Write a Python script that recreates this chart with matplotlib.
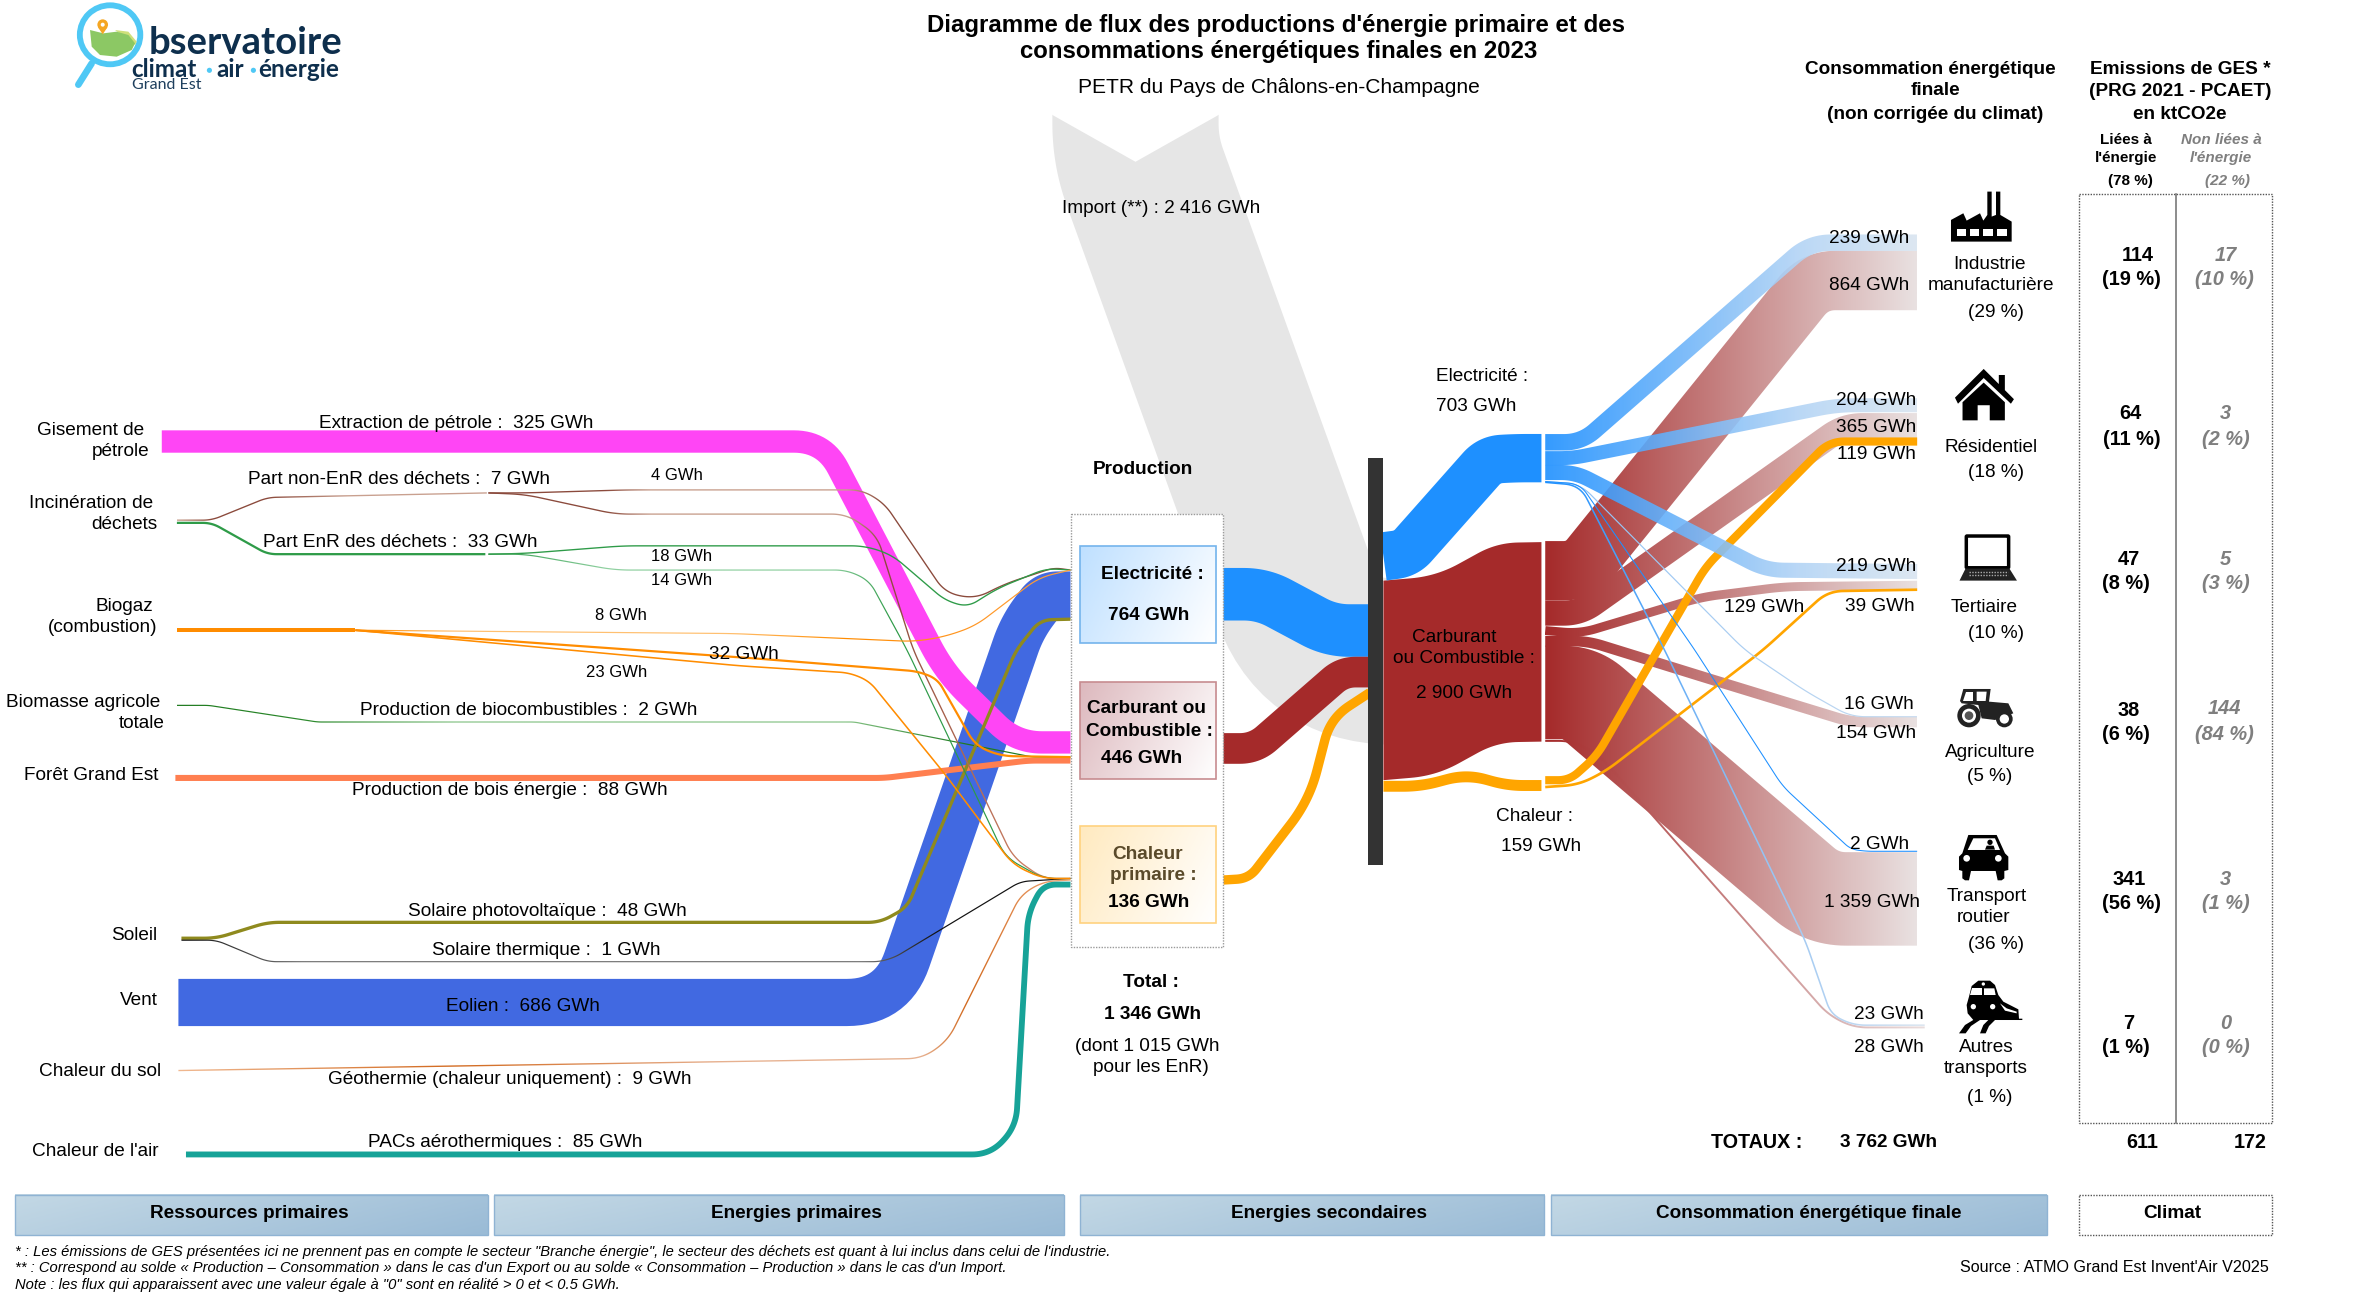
import numpy as np
import matplotlib
matplotlib.use("Agg")
import matplotlib.pyplot as plt
import matplotlib.colors as mc
from matplotlib.path import Path
from matplotlib.patches import PathPatch, Rectangle, Circle, Polygon, Ellipse, FancyBboxPatch

plt.rcParams['font.family'] = ['Liberation Sans', 'DejaVu Sans']

# ---------------- DATA ----------------
primary_names = ["Extraction de pétrole", "Part non-EnR des déchets", "Part EnR des déchets",
                 "Production de biocombustibles", "Production de bois énergie",
                 "Solaire photovoltaïque", "Solaire thermique", "Eolien",
                 "Géothermie (chaleur uniquement)", "PACs aérothermiques"]
primary_gwh = [325, 7, 33, 2, 88, 48, 1, 686, 9, 85]
waste_split_gwh = [4, 3, 18, 14]
biogas_split_gwh = [8, 32, 23]
production_gwh = [764, 446, 136]
production_total = 1346
production_enr = 1015
import_gwh = 2416
secondary_gwh = [703, 2900, 159]
elec_to_sector = [239, 204, 219, 16, 2, 23]
fuel_to_sector = [864, 365, 129, 154, 1359, 28]
heat_to_sector = [119, 39]
final_total = 3762
sector_pct = [29, 18, 10, 5, 36, 1]
ges_energy = [114, 64, 47, 38, 341, 7]
ges_energy_pct = [19, 11, 8, 6, 56, 1]
ges_other = [17, 3, 5, 144, 3, 0]
ges_other_pct = [10, 2, 3, 84, 1, 0]
ges_totals = [611, 172]
ges_shares = [78, 22]
band_names = ["Ressources primaires", "Energies primaires", "Energies secondaires",
              "Consommation énergétique finale"]

# ---------------- CANVAS ----------------
W, H = 1567.5, 859.1
fig = plt.figure(figsize=(23.7, 12.99), dpi=100)
ax = fig.add_axes([0, 0, 1, 1])
ax.set_axis_off()
KW = 0.0455  # drawing units per GWh
FS = 13.7


def gwh(v):
    return f"{v:,}".replace(",", " ") + " GWh"


def smooth(route, radius):
    pts = [np.array(p, float) for p in route]
    out = [pts[0]]
    for i in range(1, len(pts) - 1):
        a, b, c = pts[i - 1], pts[i], pts[i + 1]
        la, lc = np.linalg.norm(a - b), np.linalg.norm(c - b)
        r = min(radius, la * 0.48, lc * 0.48)
        p0 = b + (a - b) / la * r
        p2 = b + (c - b) / lc * r
        for t in np.linspace(0, 1, 16):
            out.append((1 - t) ** 2 * p0 + 2 * t * (1 - t) * b + t ** 2 * p2)
    out.append(pts[-1])
    return np.array(out)


def ribbon(route, width, radius=20, vertical=False):
    c = smooth(route, radius)
    d = np.gradient(c, axis=0)
    d /= np.maximum(np.linalg.norm(d, axis=1, keepdims=True), 1e-9)
    n = np.column_stack([-d[:, 1], d[:, 0]])
    if vertical:
        n = np.tile([0.0, 1.0], (len(c), 1))
    a, b = c + n * width / 2, c - n * width / 2
    verts, codes = [], []
    for i in range(len(c) - 1):
        q = np.array([a[i], a[i + 1], b[i + 1], b[i]])
        x, y = q[:, 0], q[:, 1]
        area = np.dot(x, np.roll(y, 1)) - np.dot(y, np.roll(x, 1))
        if area < 0:
            q = q[::-1]
        verts += list(q) + [q[0]]
        codes += [Path.MOVETO, Path.LINETO, Path.LINETO, Path.LINETO, Path.CLOSEPOLY]
    return Path(np.array(verts), codes)


def flow(value, route, color, z=2, radius=20, minw=0.0, vertical=False, alpha=1.0):
    w = max(value * KW, minw)
    path = ribbon(route, w, radius, vertical)
    if isinstance(color, str):
        ax.add_patch(PathPatch(path, fc=color, ec='none', lw=0, zorder=z, alpha=alpha))
        return
    xs = np.array([s[0] for s in color], float)
    cols = np.array([mc.to_rgba(s[1]) for s in color])
    x0, x1 = path.vertices[:, 0].min(), path.vertices[:, 0].max()
    y0, y1 = path.vertices[:, 1].min() - 1, path.vertices[:, 1].max() + 1
    gx = np.linspace(x0, x1, 256)
    img = np.stack([np.interp(gx, xs, cols[:, k]) for k in range(4)], axis=1)[None, :, :]
    im = ax.imshow(img, extent=(x0, x1, y1, y0), aspect='auto', zorder=z, interpolation='bilinear', alpha=alpha)
    im.set_clip_path(PathPatch(path, transform=ax.transData))


def grad_rect(x0, y0, x1, y1, c0, c1, edge, z=3, lw=1.2):
    a, b = np.array(mc.to_rgb(c0)), np.array(mc.to_rgb(c1))
    u, v = np.meshgrid(np.linspace(0, 1, 64), np.linspace(0, 1, 32))
    t = (0.75 * u + 0.25 * v)[..., None]
    ax.imshow(a + (b - a) * t, extent=(x0, x1, y1, y0), aspect='auto', zorder=z)
    ax.add_patch(Rectangle((x0, y0), x1 - x0, y1 - y0, fc='none', ec=edge, lw=lw, zorder=z + .1))


def T(x, y, s, size=FS, bold=False, italic=False, color='black', ha='center', z=20):
    ax.text(x, y + 0.8, s, fontsize=size, fontweight='bold' if bold else 'normal',
            fontstyle='italic' if italic else 'normal', color=color, ha=ha, va='center', zorder=z)


# ---------------- IMPORT ----------------
flow(import_gwh, [(751, 62), (751, 100), (872, 435), (965, 440)], '#E6E6E6', z=1, radius=46)
ax.add_patch(Polygon([(680, 60), (820, 60), (806, 76), (751, 107), (696, 76)], fc='white', ec='none', zorder=1.1))

# ---------------- PRIMARY ----------------
P = dict(zip(primary_names, primary_gwh))
TAN = '#C9A08F'
flow(P["Eolien"], [(118, 663), (590, 663), (676, 415), (692, 393.5), (708, 393.5)], '#4169E1', z=3, radius=30)
flow(P["Extraction de pétrole"], [(107, 292), (545, 292), (625, 445), (672, 491), (708, 491)], '#FF45F5', z=4, radius=20)
flow(P["Production de bois énergie"], [(116, 514.5), (585, 514.5), (680, 503), (708, 503)], '#FF7F50', z=5, radius=6)
flow(P["Production de biocombustibles"], [(117, 466.5), (138, 466.5), (210, 477.5), (565, 477.5), (682, 500.5), (708, 500.7)],
     [(117, '#1E7A1E'), (210, '#2E8B2E'), (300, '#86C386'), (560, '#86C386'), (640, '#1E7A1E'), (708, '#1E7A1E')], z=6, radius=3, minw=0.8)
flow(P["Solaire photovoltaïque"], [(120, 620.5), (143, 620.5), (177, 610), (582, 610), (600, 600), (672, 430), (688, 410), (708, 409.5)],
     '#8F8A1E', z=6, radius=8)
flow(P["Solaire thermique"], [(120, 621.8), (143, 621.8), (177, 636), (582, 636), (592, 633), (675, 583), (708, 581)],
     [(120, '#111111'), (200, '#777777'), (570, '#777777'), (620, '#111111'), (708, '#111111')], z=6, radius=6, minw=0.8)
flow(P["Géothermie (chaleur uniquement)"], [(118, 708), (610, 700), (627, 688), (675, 592), (690, 583), (708, 582)],
     [(118, '#F0B890'), (300, '#D2691E'), (480, '#E7B190'), (610, '#E7B190'), (640, '#D2691E'), (708, '#F0A878')], z=6, radius=10, minw=0.9)
flow(P["PACs aérothermiques"], [(123, 763.5), (655, 763.5), (672, 745), (680, 604), (690, 585), (708, 585)], '#17A398', z=6, radius=14)

# waste
BR = '#8B4A3C'
flow(P["Part non-EnR des déchets"], [(117, 344), (140, 344), (177, 329), (322, 326)],
     [(117, '#C9A08F'), (140, BR), (177, BR), (230, '#C9A08F'), (300, '#C9A08F')], z=6, radius=6, minw=0.9)
flow(waste_split_gwh[0], [(323, 326), (347, 326), (415, 324), (570, 324), (585, 333), (625, 392), (645, 396), (665, 386), (697, 375.5), (708, 377)],
     [(323, BR), (400, BR), (430, TAN), (560, TAN), (585, BR), (708, BR)], z=6, radius=10, minw=0.9)
flow(waste_split_gwh[1], [(323, 326), (347, 327), (407, 340), (560, 340), (580, 354), (604, 430), (670, 567), (690, 581), (708, 581)],
     [(323, BR), (400, BR), (430, TAN), (560, TAN), (585, BR), (708, '#E09070')], z=6, radius=10, minw=0.9)
GR = '#2E9B48'
LGR = '#8FD0A0'
flow(P["Part EnR des déchets"], [(117, 345.8), (140, 345.8), (177, 366.5), (321, 366.5)], GR, z=6, radius=6, minw=1.3)
flow(waste_split_gwh[2], [(323, 366.5), (347, 366), (412, 361), (572, 361), (590, 367), (625, 397), (640, 401.5), (660, 389), (692, 376), (708, 377)],
     GR, z=6, radius=10, minw=0.9)
flow(waste_split_gwh[3], [(323, 366.5), (347, 366.5), (407, 377), (560, 377), (575, 384), (600, 430), (665, 567), (690, 581), (708, 581)],
     [(323, GR), (400, LGR), (550, LGR), (590, GR), (708, GR)], z=6, radius=10, minw=0.8)

# biogas
OR = '#FF8C00'
flow(sum(biogas_split_gwh), [(117, 416.8), (235, 416.8)], OR, z=6, radius=2)
flow(biogas_split_gwh[0], [(235, 416.8), (485, 419), (605, 424.3), (625, 421), (645, 414), (687, 382), (708, 377)],
     [(235, OR), (300, '#FFC070'), (480, '#FFC070'), (560, OR), (708, '#FFA040')], z=6, radius=10, minw=0.8)
flow(biogas_split_gwh[1], [(235, 416.8), (500, 435.5), (607, 444), (620, 449), (645, 493), (662, 500), (708, 500.7)], OR, z=6, radius=10)
flow(biogas_split_gwh[2], [(235, 416.8), (490, 440.4), (562, 445), (575, 450.5), (625, 512), (670, 572), (690, 581), (708, 581)], OR, z=6, radius=10)

# ---------------- PRODUCTION BOXES ----------------
ax.add_patch(Rectangle((708.5, 340), 100.5, 286, fc='white', ec='#9A9A9A', lw=1.0, ls=(0, (1, 1)), zorder=7))
grad_rect(714, 361, 804, 425, '#BFE0FF', '#FFFFFF', '#74B4EC', z=8)
grad_rect(714, 451, 804, 515, '#DDB9BE', '#FFFFFF', '#C78C90', z=8)
grad_rect(714, 546.5, 804, 610.5, '#FFEAC0', '#FFFFFF', '#FFD27F', z=8)

# ---------------- PRODUCTION -> BAR ----------------
flow(production_gwh[0], [(809, 393), (835, 393), (880, 417), (906, 417)], '#1E90FF', z=3, radius=22)
flow(production_gwh[1], [(809, 495), (830, 495), (888, 444.5), (906, 444.5)], '#A52A2A', z=3, radius=22)
flow(production_gwh[2], [(809, 582), (826, 581), (866, 529), (880, 475), (906, 458)], '#FFA500', z=3, radius=20)
ax.add_patch(Rectangle((905, 303), 10, 269, fc='#333333', ec='none', zorder=9))

# ---------------- BAR -> NODES ----------------
flow(secondary_gwh[0], [(915, 368), (930, 366), (985, 304), (1002, 303), (1019.5, 303)], '#1E90FF', z=4, radius=22)
flow(secondary_gwh[1], [(915, 450), (950, 447), (990, 425), (1019.5, 424.5)], '#A52A2A', z=3, radius=22, vertical=True)
flow(secondary_gwh[2], [(915, 520), (940, 520), (970, 512), (997, 519.5), (1019.5, 519.5)], '#FFA500', z=5, radius=22, vertical=True)

# ---------------- NODE -> SECTORS ----------------
RD = [(1022, '#A52A2A'), (1268, '#E9E1E1')]
BL = [(1022, '#1E90FF'), (1190, '#B3D4F5'), (1268, '#D9E5F0')]
LB = [(1022, '#8CC0F5'), (1268, '#C8DCF0')]
X0 = 1022
flow(fuel_to_sector[4], [(X0, 458), (1045, 458), (1205, 594.5), (1268, 594.5)], RD, z=3, radius=16)
flow(fuel_to_sector[5], [(X0, 490), (1039, 490), (1057, 498.5), (1209, 671), (1226, 679.5), (1273, 679.5)],
     [(1022, '#A52A2A'), (1273, '#E9DDDD')], z=4, radius=10, minw=1.2)
flow(fuel_to_sector[0], [(X0, 377.5), (1045, 377.5), (1200, 185.5), (1268, 185.5)], RD, z=3, radius=14)
flow(fuel_to_sector[1], [(X0, 405.5), (1045, 405.5), (1220, 281.5), (1268, 281.5)], RD, z=3.1, radius=12)
flow(fuel_to_sector[2], [(X0, 417), (1045, 419), (1125, 395), (1180, 388), (1268, 387)], RD, z=3.2, radius=12)
flow(fuel_to_sector[3], [(X0, 424), (1050, 424), (1134, 450), (1224, 477.5), (1268, 477.5)], RD, z=3.2, radius=10)

flow(heat_to_sector[0], [(X0, 516), (1038, 516), (1056, 500), (1128, 375), (1210, 292), (1268, 292)], '#FFA500', z=4.5, radius=10)
flow(heat_to_sector[1], [(X0, 520.5), (1044, 519), (1062, 510), (1166, 430), (1209, 391), (1268, 390)], '#FFA500', z=4.5, radius=10)

flow(elec_to_sector[0], [(X0, 292.5), (1046, 292.5), (1197, 160.5), (1268, 160.5)], BL, z=5, radius=14, alpha=0.9)
flow(elec_to_sector[1], [(X0, 303), (1040, 303), (1215, 268), (1268, 268)], BL, z=5, radius=12, alpha=0.9)
flow(elec_to_sector[2], [(X0, 312.5), (1042, 312.5), (1168, 377), (1268, 378)], BL, z=5, radius=12, alpha=0.9)
flow(elec_to_sector[3], [(X0, 318.5), (1045, 320), (1154, 430), (1194, 457), (1224, 474), (1268, 474)], LB, z=5, radius=10, minw=0.8)
flow(elec_to_sector[4], [(X0, 318.5), (1045, 320), (1121, 430), (1179, 520), (1224, 561.6), (1234, 563), (1268, 563)], '#1E90FF', z=5, radius=8, minw=0.7)
flow(elec_to_sector[5], [(X0, 319), (1045, 321), (1101, 430), (1194, 622), (1211, 671), (1226, 678), (1273, 678)],
     [(1022, '#1E90FF'), (1130, '#7DB8F5'), (1273, '#DCE6F0')], z=5, radius=10, minw=1.0)

# ---------------- CLIMATE TABLE ----------------
ax.add_patch(Rectangle((1375, 128), 127.5, 614.5, fc='none', ec='#555555', lw=1.0, ls=(0, (1, 1)), zorder=7))
ax.plot([1439, 1439], [128, 742.5], color='#6E6E6E', lw=1.1, zorder=7)

# ---------------- BANDS ----------------
band_x = [(10, 322.5), (327, 703.5), (714, 1021), (1026, 1354)]
band_cx = [165, 527, 879, 1196]
for (a, b), cx, name in zip(band_x, band_cx, band_names):
    grad_rect(a, 790, b, 817, '#C3D8E5', '#9ABBD6', '#8FB3D3', z=8, lw=1.0)
    T(cx, 802, name, bold=True)
ax.add_patch(Rectangle((1375, 790), 127.5, 27, fc='white', ec='#555555', lw=1.0, ls=(0, (1, 1)), zorder=8))
T(1437, 802, "Climat", bold=True)


# ---------------- ICONS ----------------
K = '#000000'


def mapper(ox, oy, s=0.2205):
    return lambda pts: [(ox + s * x, oy + s * y) for x, y in pts]


def zpoly(m, pts, fc=K, z=8):
    ax.add_patch(Polygon(m(pts), fc=fc, ec='none', zorder=z))


def zcirc(m, x, y, r, fc=K, z=8.2):
    (cx, cy), = m([(x, y)])
    ax.add_patch(Circle((cx, cy), r * 0.2205, fc=fc, ec='none', zorder=z))


# factory
m = mapper(1286.4, 119)
zpoly(m, [(18, 185), (18, 120), (55, 100), (65, 122), (105, 100), (115, 122), (127, 105), (127, 35), (140, 35), (140, 110),
          (153, 105), (153, 35), (166, 35), (166, 105), (200, 125), (200, 185)])
for a, b in [(35, 62), (75, 102), (115, 145), (157, 187)]:
    zpoly(m, [(a, 147), (b, 147), (b, 167), (a, 167)], fc='white', z=8.1)
# house
ax.add_patch(Polygon([(1293, 263), (1312, 244), (1322, 254), (1322, 248), (1326, 248), (1326, 258), (1332, 264), (1330, 267), (1312, 250), (1295, 267)],
                     fc=K, ec='none', zorder=8))
ax.add_patch(Polygon([(1298, 266), (1312, 253), (1326, 266), (1326, 278), (1316, 278), (1316, 268), (1308, 268), (1308, 278), (1298, 278)],
                     fc=K, ec='none', zorder=8))
# laptop
ax.add_patch(FancyBboxPatch((1301, 355), 27, 20, boxstyle='round,pad=0.5', fc='white', ec=K, lw=2.5, zorder=8))
ax.add_patch(Polygon([(1300, 376), (1329, 376), (1334, 384), (1296, 384)], fc='#222222', ec='none', zorder=8))
for y in (378, 380.5):
    ax.plot([1302, 1328], [y, y], color='#AAAAAA', lw=1, ls=(0, (1, 1)), zorder=8.1)
# tractor
m = mapper(1286.4, 446.4)
TK = '#222222'
zpoly(m, [(55, 42), (137, 42), (132, 80), (190, 85), (205, 115), (150, 135), (110, 130), (100, 90), (50, 85), (45, 78)], fc=TK)
zpoly(m, [(62, 50), (85, 50), (85, 78), (55, 78)], fc='white', z=8.1)
zpoly(m, [(95, 50), (125, 50), (122, 78), (95, 78)], fc='white', z=8.1)
zcirc(m, 72, 122, 35, TK)
zcirc(m, 72, 122, 21, 'white', 8.3)
zcirc(m, 72, 122, 13, '#555555', 8.4)
zcirc(m, 178, 132, 25, TK)
zcirc(m, 178, 132, 14, 'white', 8.3)
# car
m = mapper(1286.4, 545.6)
zpoly(m, [(70, 30), (155, 30), (180, 85), (190, 95), (190, 135), (178, 138), (178, 160), (170, 166), (158, 166), (152, 138), (78, 138),
          (72, 166), (60, 166), (52, 160), (52, 138), (42, 135), (42, 95), (52, 85)])
zpoly(m, [(85, 40), (150, 40), (165, 75), (68, 75)], fc='white', z=8.1)
zcirc(m, 135, 52, 8, K, 8.2)
zpoly(m, [(120, 74), (150, 74), (146, 62), (125, 62)], z=8.2)
zcirc(m, 65, 100, 10, 'white', 8.2)
zcirc(m, 160, 100, 10, 'white', 8.2)
# train
m = mapper(1286.4, 634.9)
zpoly(m, [(72, 110), (80, 78), (100, 62), (135, 62), (150, 75), (160, 105), (175, 125), (220, 148), (222, 176), (232, 176), (232, 180),
          (150, 180), (85, 180), (68, 160), (65, 135)])
zpoly(m, [(80, 85), (110, 85), (110, 105), (76, 105)], fc='white', z=8.1)
zpoly(m, [(117, 85), (148, 85), (152, 105), (117, 105)], fc='white', z=8.1)
zcirc(m, 85, 140, 8, 'white', 8.2)
zcirc(m, 143, 140, 8, 'white', 8.2)
zcirc(m, 115, 72, 5, 'white', 8.2)
zpoly(m, [(165, 130), (185, 145), (215, 155), (215, 160), (180, 152)], fc='white', z=8.2)
zpoly(m, [(42, 220), (60, 195), (88, 178), (108, 178), (78, 198), (62, 220)])
zpoly(m, [(105, 220), (115, 195), (132, 178), (152, 178), (132, 198), (122, 220)])

# ---------------- LOGO ----------------
CY = '#4FC8F5'
ax.plot([60.6, 51.8], [42, 56], color=CY, lw=4.8, solid_capstyle='round', zorder=8)
ax.add_patch(Ellipse((72.8, 23), 40, 39, fc='white', ec=CY, lw=4.2, zorder=8))
m = mapper(39.7, 0)
zpoly(m, [(165, 90), (205, 95), (230, 125), (225, 135)], fc='#CFE07A', z=8.1)
zpoly(m, [(90, 90), (130, 100), (170, 95), (205, 105), (225, 130), (215, 150), (170, 170), (120, 165), (95, 140)], fc='#8CC864', z=8.15)
zcirc(m, 128, 74, 16, '#F5A623', 8.3)
zpoly(m, [(114, 82), (142, 82), (128, 103)], fc='#F5A623', z=8.3)
zcirc(m, 128, 74, 6, 'white', 8.4)
NAVY = '#0E2F4D'
logo_font = ['Lato', 'DejaVu Sans']
ax.text(98, 28.7, "bservatoire", fontsize=27.5, fontweight='bold', color=NAVY, ha='left', va='center', zorder=9, fontfamily=logo_font)
ax.text(87, 46, "climat", fontsize=17.5, fontweight='bold', color=NAVY, ha='left', va='center', zorder=9, fontfamily=logo_font)
ax.text(143, 46, "air", fontsize=17.5, fontweight='bold', color=NAVY, ha='left', va='center', zorder=9, fontfamily=logo_font)
ax.text(171, 46, "énergie", fontsize=17.5, fontweight='bold', color=NAVY, ha='left', va='center', zorder=9, fontfamily=logo_font)
ax.add_patch(Circle((138.5, 46.5), 1.7, fc=CY, ec='none', zorder=9))
ax.add_patch(Circle((167.6, 46.5), 1.7, fc=CY, ec='none', zorder=9))
ax.text(87, 56.5, "Grand Est", fontsize=11.5, color='#1E3F5D', ha='left', va='center', zorder=9, fontfamily=logo_font)

# ---------------- TEXT ----------------
T(844, 16, "Diagramme de flux des productions d'énergie primaire et des", 17.3, True)
T(846, 33.5, "consommations énergétiques finales en 2023", 17.3, True)
T(846, 57, "PETR du Pays de Châlons-en-Champagne", 15.1)

for x, y, s in [(60, 284, "Gisement de"), (80, 298, "pétrole"), (60, 332, "Incinération de"), (82, 346, "déchets"),
                (82, 400, "Biogaz"), (68, 414, "(combustion)"), (55, 464, "Biomasse agricole"), (94, 478, "totale"),
                (60, 512, "Forêt Grand Est"), (89, 618, "Soleil"), (92, 661, "Vent"), (66, 708, "Chaleur du sol"), (63, 761, "Chaleur de l'air")]:
    T(x, y, s)

label_xy = [(302, 279), (264, 316), (265, 358), (350, 469), (337, 522), (362, 602), (361, 628), (346, 665), (337, 713), (334, 755)]
for (x, y), n, v in zip(label_xy, primary_names, primary_gwh):
    T(x, y, f"{n} :  {v} GWh")

T(448, 314, f"{waste_split_gwh[0]} GWh", 12)
T(451, 367, f"{waste_split_gwh[2]} GWh", 12)
T(451, 383, f"{waste_split_gwh[3]} GWh", 12)
T(411, 406, f"{biogas_split_gwh[0]} GWh", 12)
T(492, 432, f"{biogas_split_gwh[1]} GWh", FS)
T(408, 444, f"{biogas_split_gwh[2]} GWh", 12)
T(768, 137, "Import (**) : " + gwh(import_gwh))
T(756, 310, "Production", FS, True)
T(762, 379, "Electricité :", FS, True, z=21)
T(760, 406, gwh(production_gwh[0]), FS, True, z=21)
T(758, 468, "Carburant ou", FS, True, z=21)
T(760, 483, "Combustible :", FS, True, z=21)
T(755, 501, gwh(production_gwh[1]), FS, True, z=21)
T(759, 564, "Chaleur", FS, True, color='#5A4A2A', z=21)
T(763, 578, "primaire :", FS, True, color='#5A4A2A', z=21)
T(760, 596, gwh(production_gwh[2]), FS, True, z=21)
T(761, 649, "Total :", FS, True)
T(762, 670, gwh(production_total), FS, True)
T(759, 691, f"(dont {gwh(production_enr)}")
T(761, 705, "pour les EnR)")
T(950, 248, "Electricité :", ha='left')
T(950, 268, gwh(secondary_gwh[0]), ha='left')
T(962, 421, "Carburant")
T(968, 435, "ou Combustible :")
T(968, 458, gwh(secondary_gwh[1]))
T(1015, 539, "Chaleur :")
T(1019, 559, gwh(secondary_gwh[2]))

for (x, y), v in zip([(1236, 157), (1241, 264), (1241, 374), (1243, 465), (1243, 558), (1249, 670)], elec_to_sector):
    T(x, y, gwh(v))
for (x, y), v in zip([(1236, 188), (1241, 282), (1167, 401), (1241, 484), (1238, 596), (1249, 692)], fuel_to_sector):
    T(x, y, gwh(v))
for (x, y), v in zip([(1241, 300), (1243, 400)], heat_to_sector):
    T(x, y, gwh(v))

sector_lines = [[(1316, 174, "Industrie"), (1317, 188, "manufacturière")], [(1317, 295, "Résidentiel")], [(1312, 401, "Tertiaire")],
                [(1316, 497, "Agriculture")], [(1314, 592, "Transport"), (1312, 606, "routier")], [(1314, 692, "Autres"), (1313, 706, "transports")]]
pct_xy = [(1320, 206), (1320, 312), (1320, 418), (1316, 513), (1320, 624), (1316, 725)]
for lines, (x, y), p in zip(sector_lines, pct_xy, sector_pct):
    for lx, ly, s in lines:
        T(lx, ly, s)
    T(x, y, f"({p} %)")

T(1277, 45, "Consommation énergétique", FS, True)
T(1280, 59, "finale", FS, True)
T(1280, 75, "(non corrigée du climat)", FS, True)
T(1442, 45, "Emissions de GES *", FS, True)
T(1442, 60, "(PRG 2021 - PCAET)", FS, True)
T(1442, 75, "en ktCO2e", FS, True)
T(1406, 92, "Liées à", 11, True)
T(1406, 104, "l'énergie", 11, True)
T(1409, 119, f"({ges_shares[0]} %)", 11, True)
GREY = '#7F7F7F'
T(1469, 92, "Non liées à", 11, True, True, GREY)
T(1469, 104, "l'énergie", 11, True, True, GREY)
T(1473, 119, f"({ges_shares[1]} %)", 11, True, True, GREY)

e_xy = [(1414, 168, 1410, 184), (1409, 273, 1410, 290), (1408, 369, 1406, 385), (1408, 469, 1406, 485), (1408, 581, 1410, 597), (1408, 676, 1406, 692)]
o_xy = [(1472, 168, 1471, 184), (1472, 273, 1472, 290), (1472, 369, 1472, 385), (1471, 468, 1471, 485), (1472, 581, 1472, 597), (1472, 676, 1472, 692)]
for (a, b, c, d), v, p in zip(e_xy, ges_energy, ges_energy_pct):
    T(a, b, str(v), 14.4, True)
    T(c, d, f"({p} %)", 14.4, True)
for (a, b, c, d), v, p in zip(o_xy, ges_other, ges_other_pct):
    T(a, b, str(v), 14.4, True, True, GREY)
    T(c, d, f"({p} %)", 14.4, True, True, GREY)

T(1162, 755, "TOTAUX :", 14.2, True)
T(1249, 755, gwh(final_total), FS, True)
T(1417, 755, str(ges_totals[0]), 14.2, True)
T(1488, 755, str(ges_totals[1]), 14.2, True)

T(10, 827, "* : Les émissions de GES présentées ici ne prennent pas en compte le secteur \"Branche énergie\", le secteur des déchets est quant à lui inclus dans celui de l'industrie.", 10.6, italic=True, ha='left')
T(10, 838, "** : Correspond au solde « Production – Consommation » dans le cas d'un Export ou au solde « Consommation – Production » dans le cas d'un Import.", 10.6, italic=True, ha='left')
T(10, 849, "Note : les flux qui apparaissent avec une valeur égale à \"0\" sont en réalité > 0 et < 0.5 GWh.", 10.6, italic=True, ha='left')
T(1296, 837.5, "Source : ATMO Grand Est Invent'Air V2025", 11.6, ha='left')

ax.set_xlim(0, W)
ax.set_ylim(H, 0)
fig.savefig("out.png", dpi=100, facecolor='white')
